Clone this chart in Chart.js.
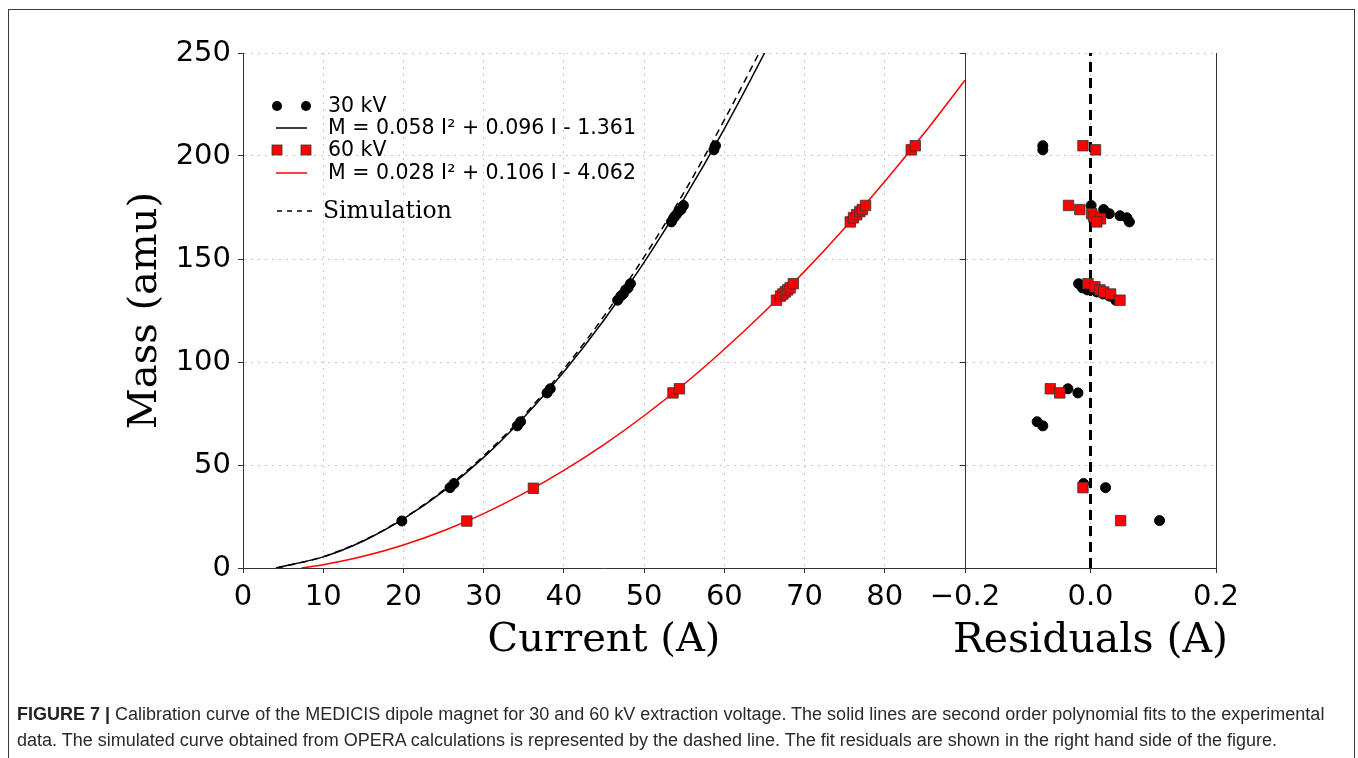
<!DOCTYPE html>
<html>
<head>
<meta charset="utf-8">
<script src="https://cdn.jsdelivr.net/npm/chart.js@4.4.1/dist/chart.umd.min.js"></script>
<style>
  body { margin: 0; background: #fff; }
  #page { position: relative; width: 1358px; height: 758px; overflow: hidden; }
  #frame { position: absolute; left: 8px; top: 9px; width: 1347px; height: 780px; border: 1.5px solid #3a3a3a; box-sizing: border-box; }
  canvas { position: absolute; left: 0; top: 0; }
  #caption { position: absolute; left: 17px; top: 701px; width: 1340px; white-space: nowrap; font-family: "Liberation Sans", Arial, sans-serif; font-size: 18px; line-height: 26px; color: #2a2a2a; }
  #caption b { color: #222; }
</style>
</head>
<body>
<div id="page">
  <div id="frame"></div>
  <canvas id="graficoMassa" width="1358" height="758"></canvas>
  <canvas id="graficoResiduos" width="1358" height="758"></canvas>
  <div id="caption"><b>FIGURE 7 |</b> Calibration curve of the MEDICIS dipole magnet for 30 and 60 kV extraction voltage. The solid lines are second order polynomial fits to the experimental<br>data. The simulated curve obtained from OPERA calculations is represented by the dashed line. The fit residuals are shown in the right hand side of the figure.</div>
</div>
<script>
// medidas 30 kV (corrente A, massa amu)
const corrente30 = [19.8, 25.8, 26.3, 34.2, 34.6, 37.9, 38.3, 46.7, 47.1, 47.4, 47.7, 48.0, 48.3, 53.4, 53.7, 54.0, 54.3, 54.6, 54.9, 58.7, 58.9];
const massa30    = [22.8, 39, 41, 69, 71, 85, 87, 130, 132, 133, 135, 136, 138, 168, 170, 171.5, 173, 174, 176, 203, 205];

// medidas 60 kV
const corrente60 = [27.9, 36.2, 53.6, 54.4, 66.5, 67.0, 67.3, 67.6, 67.9, 68.2, 68.6, 75.7, 76.1, 76.5, 76.9, 77.2, 77.6, 83.3, 83.8];
const massa60    = [22.8, 38.7, 85, 87, 130, 132, 133, 134, 135, 136, 138, 168, 170, 171.5, 173, 174, 176, 203, 205];

// curvas de ajuste e simulacao
const ajusteCorrente30 = [4.1, 10, 15, 20, 25, 30, 35, 40, 45, 50, 55, 60, 65, 66];
const ajusteMassa30    = [0, 5.4, 13.1, 23.8, 37.3, 53.7, 73.1, 95.3, 120.4, 148.4, 179.4, 213.2, 249.9, 257.6];
const simCorrente      = [4.2, 10, 15, 20, 25, 30, 35, 40, 45, 50, 55, 60, 65];
const simMassa         = [0, 5.5, 13.3, 24.1, 37.8, 54.5, 74.0, 96.6, 122.3, 151.0, 182.5, 217.5, 255];
const ajusteCorrente60 = [7.3, 10, 15, 20, 25, 30, 35, 40, 45, 50, 55, 60, 65, 70, 75, 80, 85, 90];
const ajusteMassa60    = [0, 1.6, 5.7, 11.2, 18.1, 26.4, 36.2, 47.4, 59.9, 73.9, 89.3, 106.2, 124.4, 144.0, 165.1, 187.6, 211.5, 236.8];

// residuos (A) por massa
const residuo30      = [-0.076, -0.076, 0.001, 0.021, 0.030, 0.047, 0.058, 0.062, -0.019, -0.013, -0.005, 0.010, 0.020, 0.030, 0.040, -0.036, -0.020, -0.085, -0.076, -0.011, 0.024, 0.110];
const residuoMassa30 = [205, 203, 176, 174, 172, 171, 170, 168, 138, 136, 135, 134, 133, 132, 130, 87, 85, 71, 69, 41, 39, 23];
const residuo60      = [-0.012, 0.008, -0.035, -0.017, 0.002, 0.005, 0.016, 0.010, -0.004, 0.007, 0.015, 0.021, 0.032, 0.047, -0.064, -0.049, -0.012, 0.048];
const residuoMassa60 = [205, 203, 176, 174, 172, 170.5, 169.5, 168, 138, 136.5, 135, 134, 133, 130, 87, 85, 39, 23];

const eixoMassa = [0, 250];

function pares(xs, ys) {
  return xs.map((x, i) => ({ x: x, y: ys[i] }));
}

Chart.defaults.font.family = 'DejaVu Sans';
Chart.defaults.color = '#000';

const corGrade = '#c8c8c8';
const fonteSerif = 'DejaVu Serif';

function eixoX(min, max, passo, formata) {
  return {
    type: 'linear', min: min, max: max,
    afterFit: s => { s.height = 100; },
    ticks: { stepSize: passo, autoSkip: false, maxRotation: 0, padding: 7, font: { size: 29 }, color: '#000', callback: formata },
    grid: { color: corGrade, lineWidth: 1, tickColor: '#333', tickLength: 5, tickBorderDash: [] },
    border: { color: '#333', width: 1, dash: [2, 5] }
  };
}

// legenda desenhada a mao
const legendaMassa = {
  id: 'legendaMassa',
  afterDraw(chart) {
    const ctx = chart.ctx;
    ctx.save();
    ctx.fillStyle = '#000';
    ctx.strokeStyle = '#000';
    [277, 306].forEach(x => { ctx.beginPath(); ctx.arc(x, 106, 5, 0, Math.PI * 2); ctx.fill(); });
    ctx.lineWidth = 1.5;
    ctx.beginPath(); ctx.moveTo(276, 128); ctx.lineTo(307, 128); ctx.stroke();
    ctx.fillStyle = '#ff0000'; ctx.strokeStyle = '#333'; ctx.lineWidth = 0.8;
    [277, 306].forEach(x => { ctx.fillRect(x - 5, 145, 10, 10); ctx.strokeRect(x - 5, 145, 10, 10); });
    ctx.strokeStyle = '#ff0000'; ctx.lineWidth = 1.5;
    ctx.beginPath(); ctx.moveTo(276, 173); ctx.lineTo(307, 173); ctx.stroke();
    ctx.strokeStyle = '#000'; ctx.setLineDash([5, 5]);
    ctx.beginPath(); ctx.moveTo(277, 211); ctx.lineTo(317, 211); ctx.stroke();
    ctx.setLineDash([]);
    ctx.fillStyle = '#000';
    ctx.textBaseline = 'middle';
    ctx.font = '20.5px "DejaVu Sans"';
    ctx.fillText('30 kV', 328, 107);
    ctx.fillText('M = 0.058 I\u00b2 + 0.096 I - 1.361', 328, 129);
    ctx.fillText('60 kV', 328, 151);
    ctx.fillText('M = 0.028 I\u00b2 + 0.106 I - 4.062', 328, 174);
    ctx.font = '23.5px "DejaVu Serif"';
    ctx.fillText('Simulation', 323, 212);
    ctx.restore();
  }
};

// titulo do eixo dos residuos (o titulo do Chart.js fica espremido na largura do eixo)
const tituloResiduos = {
  id: 'tituloResiduos',
  afterDraw(chart) {
    const ctx = chart.ctx;
    const x = chart.scales.x;
    ctx.save();
    ctx.fillStyle = '#000';
    ctx.font = '41px "DejaVu Serif"';
    ctx.textAlign = 'center';
    ctx.textBaseline = 'middle';
    ctx.fillText('Residuals (A)', (x.left + x.right) / 2, 641);
    ctx.restore();
  }
};

const graficoMassa = new Chart(document.getElementById('graficoMassa'), {
  type: 'scatter',
  data: {
    datasets: [
      { label: '30 kV', data: pares(corrente30, massa30), pointStyle: 'circle', pointRadius: 5, backgroundColor: '#000', borderColor: '#000', borderWidth: 1, order: 1 },
      { label: '60 kV', data: pares(corrente60, massa60), pointStyle: 'rect', pointRadius: 7.4, backgroundColor: '#ff0000', borderColor: '#333', borderWidth: 0.8, order: 0 },
      { type: 'line', label: 'ajuste 30', data: pares(ajusteCorrente30, ajusteMassa30), borderColor: '#000', borderWidth: 1.5, pointRadius: 0, cubicInterpolationMode: 'monotone', order: 3 },
      { type: 'line', label: 'Simulation', data: pares(simCorrente, simMassa), borderColor: '#000', borderWidth: 1.5, borderDash: [7, 5], pointRadius: 0, cubicInterpolationMode: 'monotone', order: 4 },
      { type: 'line', label: 'ajuste 60', data: pares(ajusteCorrente60, ajusteMassa60), borderColor: '#ff0000', borderWidth: 1.5, pointRadius: 0, cubicInterpolationMode: 'monotone', order: 3 }
    ]
  },
  options: {
    responsive: false,
    animation: false,
    layout: { padding: { left: 0, right: 393, top: 53, bottom: 90 } },
    plugins: { legend: { display: false }, tooltip: { enabled: false } },
    scales: {
      x: Object.assign(eixoX(0, 90, 10, v => v >= 90 ? '' : String(v)), {
        title: { display: true, text: 'Current (A)', font: { family: fonteSerif, size: 40 }, color: '#000', padding: { top: 0, bottom: 3 } }
      }),
      y: {
        type: 'linear', min: eixoMassa[0], max: eixoMassa[1],
        afterFit: s => { s.width = 243; },
        ticks: { stepSize: 50, padding: 7, font: { size: 29 }, color: '#000' },
        grid: { color: corGrade, lineWidth: 1, tickColor: '#333', tickLength: 5, tickBorderDash: [] },
        border: { color: '#333', width: 1, dash: [2, 5] },
        title: { display: true, text: 'Mass (amu)', font: { family: fonteSerif, size: 40 }, color: '#000', padding: { top: 122, bottom: 0 } }
      }
    }
  },
  plugins: [legendaMassa]
});

const graficoResiduos = new Chart(document.getElementById('graficoResiduos'), {
  type: 'scatter',
  data: {
    datasets: [
      { label: '60 kV', data: pares(residuo60, residuoMassa60), pointStyle: 'rect', pointRadius: 7.4, backgroundColor: '#ff0000', borderColor: '#333', borderWidth: 0.8, order: 0 },
      { label: '30 kV', data: pares(residuo30, residuoMassa30), pointStyle: 'circle', pointRadius: 5, backgroundColor: '#000', borderColor: '#000', borderWidth: 1, order: 1 },
      { type: 'line', label: 'zero', data: pares([0, 0], eixoMassa), borderColor: '#000', borderWidth: 3, borderDash: [10, 6], pointRadius: 0, order: 2 }
    ]
  },
  options: {
    responsive: false,
    animation: false,
    layout: { padding: { left: 965, right: 142, top: 53, bottom: 90 } },
    plugins: { legend: { display: false }, tooltip: { enabled: false } },
    scales: {
      x: eixoX(-0.2, 0.2, 0.2, v => (v < -1e-9 ? '\u2212' : '') + Math.abs(v).toFixed(1)),
      y: {
        type: 'linear', min: eixoMassa[0], max: eixoMassa[1],
        afterFit: s => { s.width = 0; },
        ticks: { stepSize: 50, display: false },
        grid: { color: corGrade, lineWidth: 1, tickColor: '#333', tickLength: 5, tickBorderDash: [] },
        border: { color: '#333', width: 1, dash: [2, 5] }
      },
      yDireita: {
        type: 'linear', position: 'right', min: eixoMassa[0], max: eixoMassa[1],
        afterFit: s => { s.width = 0; },
        ticks: { display: false },
        grid: { display: false, drawTicks: false },
        border: { color: '#333', width: 1 }
      }
    }
  },
  plugins: [tituloResiduos]
});
</script>
</body>
</html>
